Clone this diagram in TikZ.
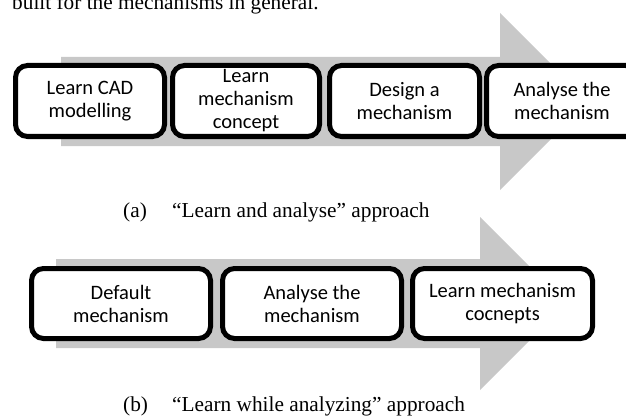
\documentclass[tikz,border=0pt]{standalone}
\usepackage{fontspec}
\setmainfont{Liberation Serif}
\newfontfamily\boxfont{Carlito}
\definecolor{arrowgray}{RGB}{200,200,200}
\begin{document}
\begin{tikzpicture}[x=1pt,y=-1pt,
  stepbox/.style={draw=black, line width=5pt, rounded corners=12pt, fill=white,
    inner sep=0pt, align=center, font=\boxfont\fontsize{20.5}{23}\selectfont},
  captext/.style={inner sep=0pt, anchor=base west, font=\fontsize{21.3}{25}\selectfont}]
\useasboundingbox (0,0) rectangle (626,417);
\clip (0,0) rectangle (626,417);
% top text (cut off)
\node[captext] (top) at (12,10) {built for the mechanisms in general.};
% arrow (a)
\fill[arrowgray] (61,57) -- (500,57) -- (500,13) -- (588.5,101.5) -- (500,190) -- (500,146) -- (61,146) -- cycle;
\node[stepbox, minimum width=149pt, minimum height=71pt] (a1) at (90,101) {Learn CAD\\modelling};
\node[stepbox, minimum width=147pt, minimum height=71pt] (a2) at (246,101) {Learn\\mechanism\\concept};
\node[stepbox, minimum width=150pt, minimum height=71pt] (a3) at (404.5,101) {Design a\\mechanism};
\node[stepbox, minimum width=151pt, minimum height=71pt] (a4) at (562,101) {Analyse the\\mechanism};
\node[captext] (capa1) at (123,217) {(a)};
\node[captext] (capa2) at (172,217) {“Learn and analyse” approach};
% arrow (b)
\fill[arrowgray] (56,259) -- (480,259) -- (480,217) -- (566.5,303.5) -- (480,390) -- (480,348) -- (56,348) -- cycle;
\node[stepbox, minimum width=179pt, minimum height=70pt] (b1) at (121,303.5) {Default\\mechanism};
\node[stepbox, minimum width=179pt, minimum height=70pt] (b2) at (312,303.5) {Analyse the\\mechanism};
\node[stepbox, minimum width=180pt, minimum height=70pt] (b3) at (502.5,303.5) {Learn mechanism\\cocnepts};
\node[captext] (capb1) at (123,411) {(b)};
\node[captext] (capb2) at (172,411) {“Learn while analyzing” approach};
\end{tikzpicture}
\end{document}
